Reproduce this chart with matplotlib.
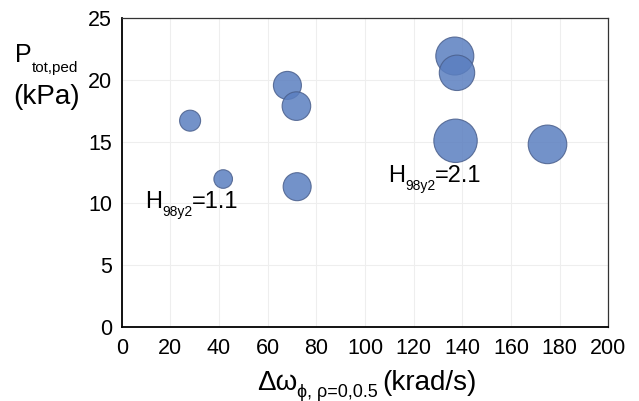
import numpy as np
import matplotlib.pyplot as plt
from matplotlib.transforms import IdentityTransform

plt.rcParams['font.family'] = ['Liberation Sans', 'DejaVu Sans']

# rotation shear vs pedestal pressure, bubble radius in px
shear = [28.1, 41.7, 68.1, 71.8, 72.1, 136.9, 137.8, 137.2, 175.0]
p_ped = [16.7, 11.97, 19.56, 17.88, 11.35, 21.94, 20.58, 15.07, 14.78]
bubble_r = [10.5, 9.3, 14.0, 14.3, 14.0, 19.0, 17.7, 21.7, 19.3]

xticks = np.arange(0, 201, 20)
yticks = np.arange(0, 26, 5)

W, H = 639, 401
fig = plt.figure(figsize=(W / 100, H / 100), dpi=100)
ax = fig.add_axes([0.1905, 0.1853, 0.952 - 0.1905, 0.9544 - 0.1853])

# marker size in points^2 from pixel radius
sizes = [(2 * r * 72 / 100) ** 2 for r in bubble_r]
ax.scatter(shear, p_ped, s=sizes, facecolor='#5B7FC0', alpha=0.85,
           edgecolor='#4A5F8C', linewidth=0.8, zorder=3)

ax.set_xlim(0, 200)
ax.set_ylim(0, 25)
ax.set_xticks(xticks)
ax.set_yticks(yticks)
ax.tick_params(length=0, labelsize=15.5)
ax.tick_params(axis='x', pad=8)
ax.tick_params(axis='y', pad=7)
ax.grid(color='#EEEEEE', linewidth=0.8, zorder=0)
ax.set_axisbelow(True)

for side in ['left', 'bottom']:
    ax.spines[side].set_linewidth(1.3)
    ax.spines[side].set_color('black')
for side in ['top', 'right']:
    ax.spines[side].set_linewidth(0.9)
    ax.spines[side].set_color('#333333')


def put(pieces, x0, y0):
    # pieces: (text, fontsize, drop in px, gap after in px); y0 is baseline from top
    r = fig.canvas.get_renderer()
    x = x0
    for s, size, dy, gap in pieces:
        t = fig.text(x, H - (y0 + dy), s, fontsize=size, transform=IdentityTransform(),
                     va='baseline', ha='left')
        x = t.get_window_extent(r).x1 + gap


# y label
put([('P', 18, 0, 0), ('tot,ped', 11, 10, 0)], 15, 62)
put([('(kPa)', 20, 0, 0)], 13, 104)

# x label
put([('Δω', 20, 0, 0), ('ϕ, ρ=0,0.5', 13, 7, 4), ('(krad/s)', 20, 0, 0)], 257, 390)

# group labels
put([('H', 17, 0, 0), ('98y2', 10, 8, 0), ('=1.1', 17, 0, 0)], 145, 208)
put([('H', 17, 0, 0), ('98y2', 10, 8, 0), ('=2.1', 17, 0, 0)], 388, 182)

fig.savefig('out.png', dpi=100)
